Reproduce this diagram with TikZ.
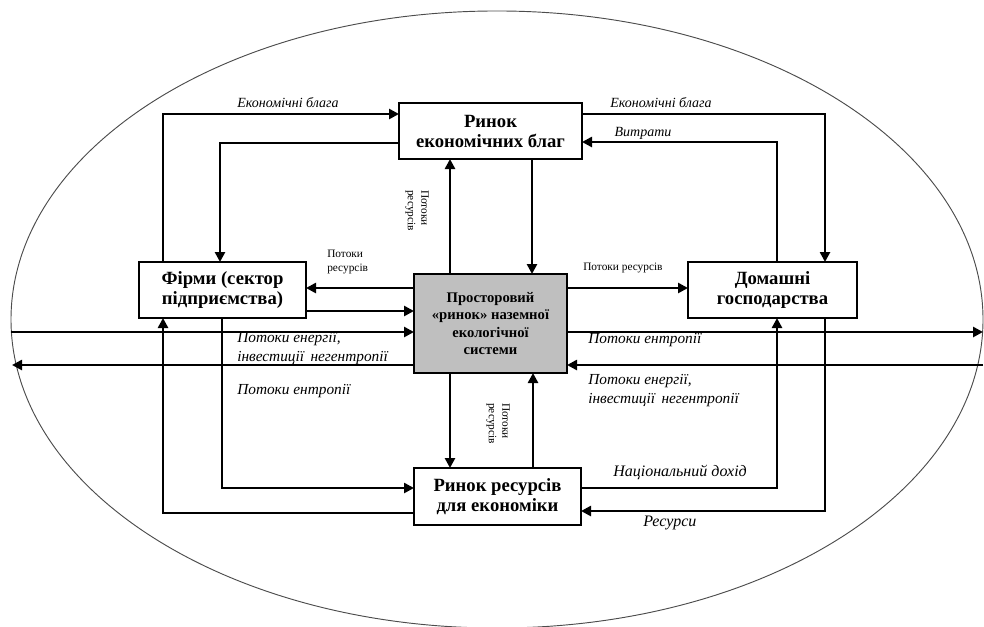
\documentclass[tikz,border=0pt]{standalone}
\usepackage{fontspec}
\setmainfont{Liberation Serif}
\usetikzlibrary{arrows.meta}
\tikzset{
  flow/.style={line width=1.9pt, -{Triangle[length=7.5pt,width=7.5pt]}},
  box/.style={draw, line width=0.8pt, fill=white, inner sep=0pt, outer sep=0pt, align=center,
              font=\fontsize{14}{15}\selectfont\bfseries},
  ell/.style={draw=black!70, line width=0.7pt},
  lab/.style={font=\fontsize{10.5}{13}\selectfont\itshape, inner sep=0pt},
  biglab/.style={font=\fontsize{11.5}{14}\selectfont\itshape, inner sep=0pt, align=left},
  small/.style={font=\fontsize{8.5}{10}\selectfont, inner sep=0pt, align=left}
}
\begin{document}
\begin{tikzpicture}[x=0.75pt, y=-0.75pt]
\useasboundingbox (0,0) rectangle (984,626);
% ellipse
\draw[ell] (497,319.5) ellipse [x radius=364.5pt, y radius=231.4pt];

% boxes
\node[box, minimum width=137.25pt, minimum height=42pt] (blaga) at (490.5,131) {Ринок\\економічних благ};
\node[box, minimum width=125.25pt, minimum height=42pt] (firms) at (222.5,290) {Фірми (сектор\\підприємства)};
\node[box, minimum width=114.75pt, minimum height=74.25pt, fill=black!25,
      font=\fontsize{11}{13}\selectfont\bfseries] (eco) at (490.5,323.5) {Просторовий\\«ринок» наземної\\екологічної\\системи};
\node[box, minimum width=126.75pt, minimum height=42pt] (home) at (772.5,290) {Домашні\\господарства};
\node[box, minimum width=125.25pt, minimum height=42.75pt] (res) at (497.5,496.5) {Ринок ресурсів\\для економіки};

% loops
\draw[flow] (163,0 |- firms.north) |- (blaga.west |- 0,114);
\draw[flow] (blaga.west |- 0,143) -| (220,0 |- firms.north);
\draw[flow] (blaga.east |- 0,114) -| (825,0 |- home.north);
\draw[flow] (777,0 |- home.north) |- (blaga.east |- 0,142);
\draw[flow] (res.west |- 0,513) -| (163,0 |- firms.south);
\draw[flow] (222,0 |- firms.south) |- (res.west |- 0,488);
\draw[flow] (res.east |- 0,488) -| (777,0 |- home.south);
\draw[flow] (825,0 |- home.south) |- (res.east |- 0,511);

% vertical links with centre
\draw[flow] (532,0 |- blaga.south) -- (532,0 |- eco.north);
\draw[flow] (450,0 |- eco.north) -- (450,0 |- blaga.south);
\draw[flow] (450,0 |- eco.south) -- (450,0 |- res.north);
\draw[flow] (533,0 |- res.north) -- (533,0 |- eco.south);

% horizontal links with centre
\draw[flow] (eco.west |- 0,288) -- (firms.east |- 0,288);
\draw[flow] (firms.east |- 0,311) -- (eco.west |- 0,311);
\draw[flow] (eco.east |- 0,288) -- (home.west |- 0,288);

% through lines
\coordinate (L1) at (11,332);
\coordinate (R1) at (983,332);
\coordinate (R2) at (983,365);
\coordinate (L2) at (12,365);
\draw[flow] (L1) -- (eco.west |- L1);
\draw[flow] (eco.east |- R1) -- (R1);
\draw[flow] (R2) -- (eco.east |- R2);
\draw[flow] (eco.west |- L2) -- (L2);

% labels
\node[lab] (t1) at (288,103) {Економічні блага};
\node[lab] (t2) at (661,103) {Економічні блага};
\node[lab] (t3) at (643,133) {Витрати};
\node[small, rotate=-90, anchor=north west] (t4) at (429,190) {Потоки\\ресурсів};
\node[small, rotate=-90, anchor=north west] (t5) at (510,403) {Потоки\\ресурсів};
\node[small, anchor=west] (t6) at (327,262) {Потоки\\ресурсів};
\node[small, anchor=west] (t7) at (583,268) {Потоки ресурсів};
\node[biglab, anchor=west] (t8) at (237,348.5) {Потоки енергії,\\інвестиції\, негентропії};
\node[biglab, anchor=west] (t9) at (237,391) {Потоки ентропії};
\node[biglab, anchor=west] (t10) at (588,340) {Потоки ентропії};
\node[biglab, anchor=west] (t11) at (588,390.5) {Потоки енергії,\\інвестиції\, негентропії};
\node[lab, font=\fontsize{12}{14}\selectfont\itshape, anchor=west] (t12) at (613,472) {Національний дохід};
\node[lab, font=\fontsize{12}{14}\selectfont\itshape, anchor=west] (t13) at (643,523) {Ресурси};
\end{tikzpicture}
\end{document}
